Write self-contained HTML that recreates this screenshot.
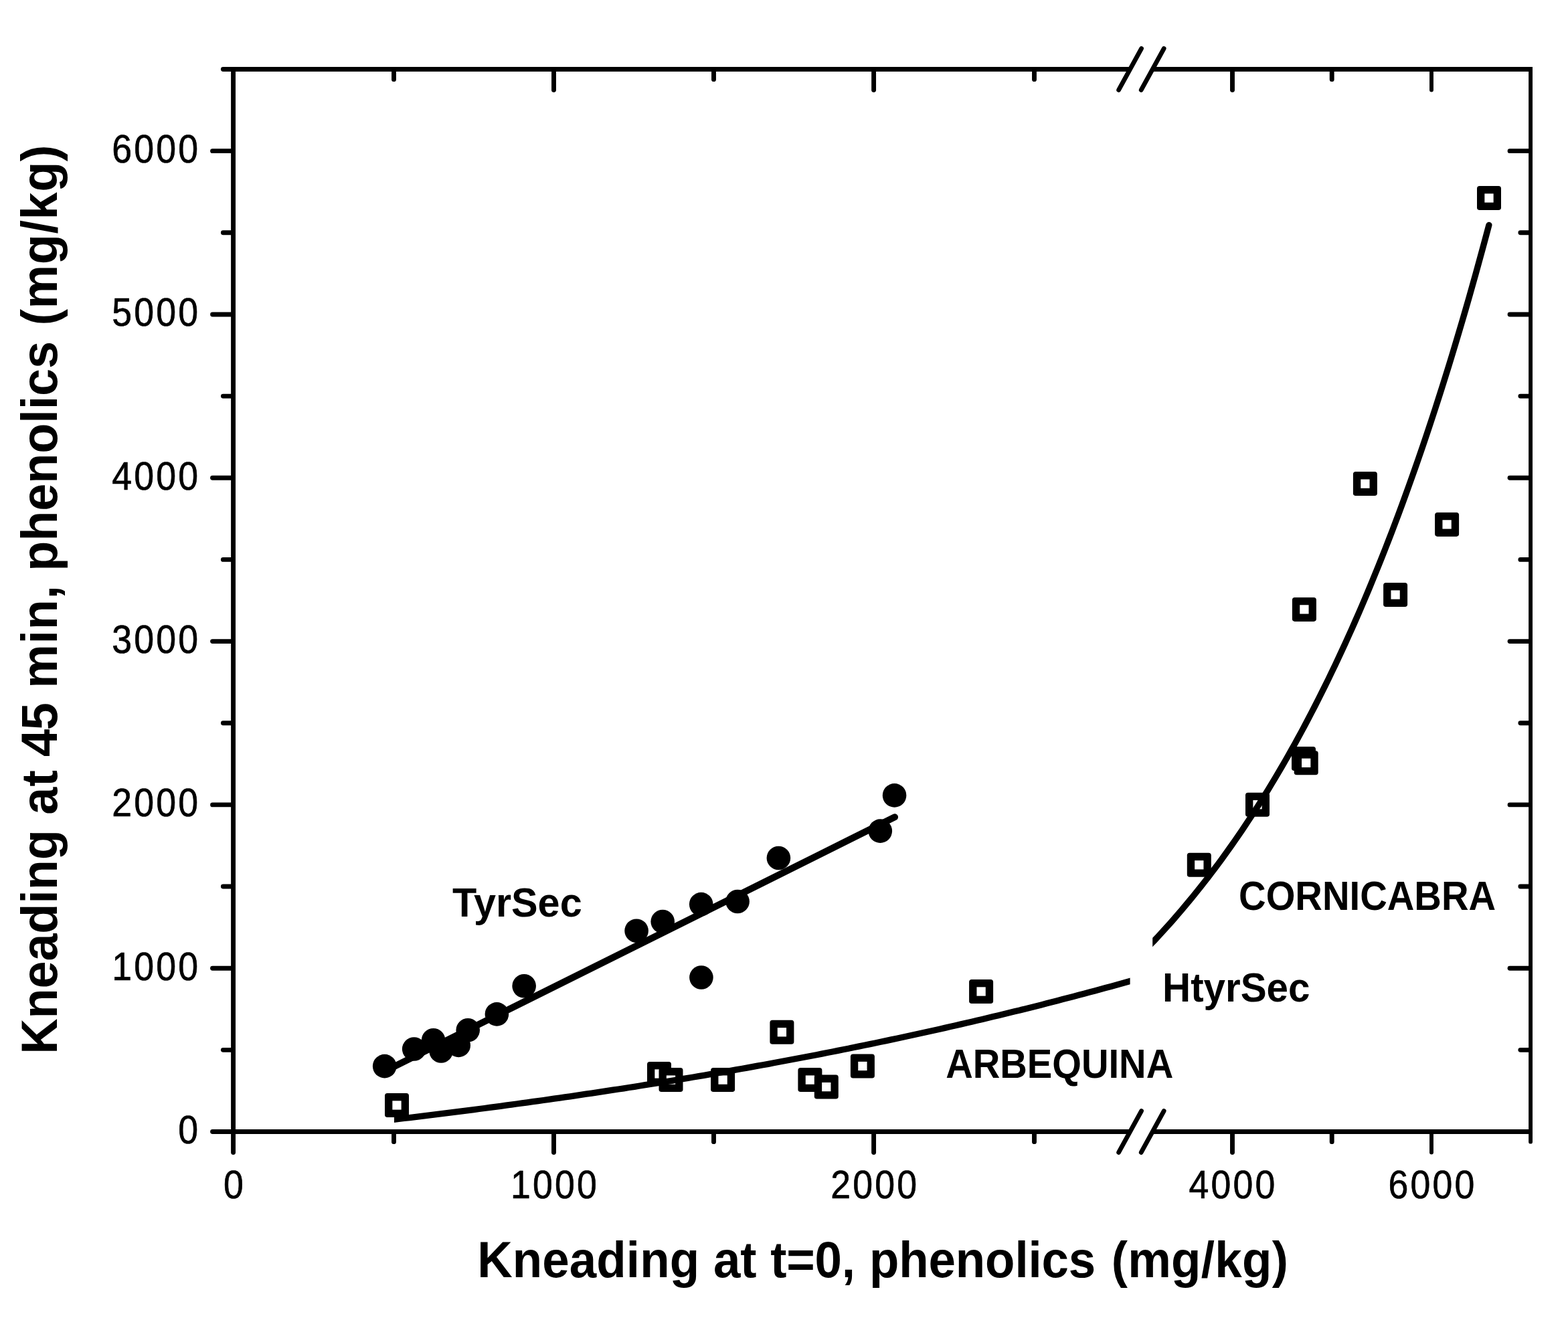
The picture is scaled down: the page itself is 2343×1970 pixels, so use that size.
<!DOCTYPE html>
<html lang="en"><head><meta charset="utf-8"><title>Kneading phenolics</title>
<style>html,body{margin:0;padding:0;background:#fff}svg{display:block}text{font-family:"Liberation Sans",Arial,Helvetica,sans-serif;fill:#000;white-space:pre}.b{font-weight:bold}</style></head><body>
<svg xmlns="http://www.w3.org/2000/svg" width="2343" height="1970" viewBox="0 0 2343 1970">
<rect x="0" y="0" width="2343" height="1970" fill="#fff"/>
<g stroke="#000" stroke-width="6.9" fill="none" stroke-linecap="butt">
<path d="M348.55 100.05 V1691.5"/>
<path stroke-width="5.9" d="M2287.07 100.05 V1694.95"/>
<path d="M348.55 103.5 H1688.6"/>
<path d="M1722.2 103.5 H2287.07"/>
<path d="M348.55 1691.5 H1688.6"/>
<path d="M1722.2 1691.5 H2287.07"/>
</g>
<g stroke="#000" stroke-width="6.9" fill="none" stroke-linecap="round">
<path d="M348.55 1691.50 h-31.0"/>
<path d="M348.55 1569.35 h-15.15"/>
<path d="M2286.07 1569.35 h-14.15"/>
<path d="M348.55 1447.19 h-31.0"/>
<path d="M2286.07 1447.19 h-30.0"/>
<path d="M348.55 1325.04 h-15.15"/>
<path d="M2286.07 1325.04 h-14.15"/>
<path d="M348.55 1202.88 h-31.0"/>
<path d="M2286.07 1202.88 h-30.0"/>
<path d="M348.55 1080.73 h-15.15"/>
<path d="M2286.07 1080.73 h-14.15"/>
<path d="M348.55 958.58 h-31.0"/>
<path d="M2286.07 958.58 h-30.0"/>
<path d="M348.55 836.42 h-15.15"/>
<path d="M2286.07 836.42 h-14.15"/>
<path d="M348.55 714.27 h-31.0"/>
<path d="M2286.07 714.27 h-30.0"/>
<path d="M348.55 592.12 h-15.15"/>
<path d="M2286.07 592.12 h-14.15"/>
<path d="M348.55 469.96 h-31.0"/>
<path d="M2286.07 469.96 h-30.0"/>
<path d="M348.55 347.81 h-15.15"/>
<path d="M2286.07 347.81 h-14.15"/>
<path d="M348.55 225.65 h-31.0"/>
<path d="M2286.07 225.65 h-30.0"/>
<path d="M348.55 103.50 h-15.15"/>
<path d="M348.55 1691.5 v31.0"/>
<path d="M588.50 1691.5 v15.15"/>
<path d="M588.50 103.5 v15.15"/>
<path d="M827.50 1691.5 v31.0"/>
<path d="M827.50 103.5 v31.0"/>
<path d="M1066.50 1691.5 v15.15"/>
<path d="M1066.50 103.5 v15.15"/>
<path d="M1305.60 1691.5 v31.0"/>
<path d="M1305.60 103.5 v31.0"/>
<path d="M1545.50 1691.5 v15.15"/>
<path d="M1545.50 103.5 v15.15"/>
<path d="M1841.50 1691.5 v31.0"/>
<path d="M1841.50 103.5 v31.0"/>
<path d="M1990.20 1691.5 v15.15"/>
<path d="M1990.20 103.5 v15.15"/>
<path stroke-width="5.9" d="M2139.00 1691.5 v31.0"/>
<path stroke-width="5.9" d="M2139.00 103.5 v31.0"/>
<path stroke-width="5.9" d="M2287.07 1691.5 v15.15"/>
<path stroke-width="6.8" d="M1671.65 134.40 L1705.55 72.60"/>
<path stroke-width="6.8" d="M1705.25 134.40 L1739.15 72.60"/>
<path stroke-width="6.8" d="M1671.65 1722.40 L1705.55 1660.60"/>
<path stroke-width="6.8" d="M1705.25 1722.40 L1739.15 1660.60"/>
</g>
<g fill="#000">
<circle cx="574.7" cy="1593.6" r="17.8"/>
<circle cx="618.7" cy="1568" r="17.8"/>
<circle cx="647.6" cy="1554.8" r="17.8"/>
<circle cx="659.1" cy="1571" r="17.8"/>
<circle cx="685.2" cy="1562.4" r="17.8"/>
<circle cx="699.2" cy="1539.8" r="17.8"/>
<circle cx="742.4" cy="1515.9" r="17.8"/>
<circle cx="783.15" cy="1473.8" r="17.8"/>
<circle cx="951.1" cy="1391.2" r="17.8"/>
<circle cx="990.2" cy="1377.5" r="17.8"/>
<circle cx="1047.7" cy="1351.6" r="17.8"/>
<circle cx="1102.1" cy="1347.5" r="17.8"/>
<circle cx="1163.4" cy="1282.5" r="17.8"/>
<circle cx="1315.3" cy="1242.1" r="17.8"/>
<circle cx="1336.55" cy="1188.9" r="17.8"/>
<circle cx="1047.9" cy="1461" r="17.8"/>
</g>
<g fill="#000">
<rect x="575.00" y="1634.00" width="36.0" height="36.0" rx="3.8"/><rect x="586.35" y="1645.35" width="13.3" height="13.3" fill="#fff"/>
<rect x="967.00" y="1587.00" width="36.0" height="36.0" rx="3.8"/><rect x="978.35" y="1598.35" width="13.3" height="13.3" fill="#fff"/>
<rect x="984.50" y="1596.10" width="36.0" height="36.0" rx="3.8"/><rect x="995.85" y="1607.45" width="13.3" height="13.3" fill="#fff"/>
<rect x="1062.10" y="1596.10" width="36.0" height="36.0" rx="3.8"/><rect x="1073.45" y="1607.45" width="13.3" height="13.3" fill="#fff"/>
<rect x="1150.40" y="1524.80" width="36.0" height="36.0" rx="3.8"/><rect x="1161.75" y="1536.15" width="13.3" height="13.3" fill="#fff"/>
<rect x="1192.40" y="1596.10" width="36.0" height="36.0" rx="3.8"/><rect x="1203.75" y="1607.45" width="13.3" height="13.3" fill="#fff"/>
<rect x="1216.80" y="1606.60" width="36.0" height="36.0" rx="3.8"/><rect x="1228.15" y="1617.95" width="13.3" height="13.3" fill="#fff"/>
<rect x="1270.90" y="1575.50" width="36.0" height="36.0" rx="3.8"/><rect x="1282.25" y="1586.85" width="13.3" height="13.3" fill="#fff"/>
<rect x="1448.10" y="1464.00" width="36.0" height="36.0" rx="3.8"/><rect x="1459.45" y="1475.35" width="13.3" height="13.3" fill="#fff"/>
<rect x="1773.80" y="1274.80" width="36.0" height="36.0" rx="3.8"/><rect x="1785.15" y="1286.15" width="13.3" height="13.3" fill="#fff"/>
<rect x="1861.00" y="1184.70" width="36.0" height="36.0" rx="3.8"/><rect x="1872.35" y="1196.05" width="13.3" height="13.3" fill="#fff"/>
<rect x="1930.00" y="1116.05" width="36.0" height="36.0" rx="3.8"/><rect x="1941.35" y="1127.40" width="13.3" height="13.3" fill="#fff"/>
<rect x="1933.70" y="1122.30" width="36.0" height="36.0" rx="3.8"/><rect x="1945.05" y="1133.65" width="13.3" height="13.3" fill="#fff"/>
<rect x="1930.90" y="892.90" width="36.0" height="36.0" rx="3.8"/><rect x="1942.25" y="904.25" width="13.3" height="13.3" fill="#fff"/>
<rect x="2021.90" y="705.10" width="36.0" height="36.0" rx="3.8"/><rect x="2033.25" y="716.45" width="13.3" height="13.3" fill="#fff"/>
<rect x="2067.10" y="871.00" width="36.0" height="36.0" rx="3.8"/><rect x="2078.45" y="882.35" width="13.3" height="13.3" fill="#fff"/>
<rect x="2144.10" y="765.90" width="36.0" height="36.0" rx="3.8"/><rect x="2155.45" y="777.25" width="13.3" height="13.3" fill="#fff"/>
<rect x="2207.00" y="278.05" width="36.0" height="36.0" rx="3.8"/><rect x="2218.35" y="289.40" width="13.3" height="13.3" fill="#fff"/>
</g>
<g stroke="#000" stroke-width="9.3" fill="none" stroke-linecap="round" stroke-linejoin="round">
<path stroke-width="10" d="M574.7 1601.3 L1337 1221.3"/>
</g>
<defs><clipPath id="cl"><rect x="589" y="0" width="1099.6" height="1970"/></clipPath><clipPath id="cr"><rect x="1722.2" y="0" width="700" height="1970"/></clipPath></defs>
<g stroke="#000" stroke-width="9.3" fill="none" stroke-linecap="round" stroke-linejoin="round">
<path clip-path="url(#cl)" d="M580.0 1674.4 588.0 1673.4 596.0 1672.5 604.0 1671.5 612.0 1670.6 620.0 1669.6 628.0 1668.6 636.0 1667.6 644.0 1666.7 652.0 1665.7 660.0 1664.7 668.0 1663.7 676.0 1662.7 684.0 1661.6 692.0 1660.6 700.0 1659.6 708.0 1658.6 716.0 1657.5 724.0 1656.5 732.0 1655.4 740.0 1654.3 748.0 1653.3 756.0 1652.2 764.0 1651.1 772.0 1650.0 780.0 1648.9 788.0 1647.8 796.0 1646.7 804.0 1645.6 812.0 1644.5 820.0 1643.4 828.0 1642.2 836.0 1641.1 844.0 1639.9 852.0 1638.8 860.0 1637.6 868.0 1636.4 876.0 1635.2 884.0 1634.1 892.0 1632.9 900.0 1631.6 908.0 1630.4 916.0 1629.2 924.0 1628.0 932.0 1626.8 940.0 1625.5 948.0 1624.3 956.0 1623.0 964.0 1621.7 972.0 1620.5 980.0 1619.2 988.0 1617.9 996.0 1616.6 1004.0 1615.3 1012.0 1614.0 1020.0 1612.6 1028.0 1611.3 1036.0 1610.0 1044.0 1608.6 1052.0 1607.3 1060.0 1605.9 1068.0 1604.5 1076.0 1603.1 1084.0 1601.7 1092.0 1600.3 1100.0 1598.9 1108.0 1597.5 1116.0 1596.1 1124.0 1594.6 1132.0 1593.2 1140.0 1591.7 1148.0 1590.3 1156.0 1588.8 1164.0 1587.3 1172.0 1585.8 1180.0 1584.3 1188.0 1582.8 1196.0 1581.3 1204.0 1579.8 1212.0 1578.2 1220.0 1576.7 1228.0 1575.1 1236.0 1573.5 1244.0 1572.0 1252.0 1570.4 1260.0 1568.8 1268.0 1567.2 1276.0 1565.5 1284.0 1563.9 1292.0 1562.3 1300.0 1560.6 1308.0 1559.0 1316.0 1557.3 1324.0 1555.6 1332.0 1553.9 1340.0 1552.2 1348.0 1550.5 1356.0 1548.8 1364.0 1547.0 1372.0 1545.3 1380.0 1543.5 1388.0 1541.7 1396.0 1540.0 1404.0 1538.2 1412.0 1536.4 1420.0 1534.5 1428.0 1532.7 1436.0 1530.9 1444.0 1529.0 1452.0 1527.2 1460.0 1525.3 1468.0 1523.4 1476.0 1521.5 1484.0 1519.6 1492.0 1517.7 1500.0 1515.7 1508.0 1513.8 1516.0 1511.8 1524.0 1509.9 1532.0 1507.9 1540.0 1505.9 1548.0 1503.9 1556.0 1501.9 1564.0 1499.8 1572.0 1497.8 1580.0 1495.7 1588.0 1493.6 1596.0 1491.6 1604.0 1489.5 1612.0 1487.3 1620.0 1485.2 1628.0 1483.1 1636.0 1480.9 1644.0 1478.8 1652.0 1476.6 1660.0 1474.4 1668.0 1472.2 1676.0 1470.0 1684.0 1467.7 1692.0 1465.5 1700.0 1463.2 1708.0 1460.9"/>
<path clip-path="url(#cr)" d="M1700.0 1431.3 1705.0 1426.3 1710.0 1421.3 1715.0 1416.1 1720.0 1410.9 1725.0 1405.7 1730.0 1400.3 1735.0 1394.9 1740.0 1389.4 1745.0 1383.9 1750.0 1378.3 1755.0 1372.6 1760.0 1366.8 1765.0 1361.0 1770.0 1355.1 1775.0 1349.1 1780.0 1343.1 1785.0 1336.9 1790.0 1330.7 1795.0 1324.4 1800.0 1318.0 1805.0 1311.6 1810.0 1305.0 1815.0 1298.4 1820.0 1291.7 1825.0 1284.9 1830.0 1278.0 1835.0 1271.1 1840.0 1264.0 1845.0 1256.9 1850.0 1249.6 1855.0 1242.3 1860.0 1234.9 1865.0 1227.3 1870.0 1219.7 1875.0 1212.0 1880.0 1204.2 1885.0 1196.3 1890.0 1188.3 1895.0 1180.2 1900.0 1171.9 1905.0 1163.6 1910.0 1155.2 1915.0 1146.6 1920.0 1138.0 1925.0 1129.2 1930.0 1120.4 1935.0 1111.4 1940.0 1102.3 1945.0 1093.1 1950.0 1083.7 1955.0 1074.3 1960.0 1064.7 1965.0 1055.0 1970.0 1045.2 1975.0 1035.2 1980.0 1025.2 1985.0 1015.0 1990.0 1004.6 1995.0 994.2 2000.0 983.6 2005.0 972.8 2010.0 962.0 2015.0 950.9 2020.0 939.8 2025.0 928.5 2030.0 917.1 2035.0 905.5 2040.0 893.7 2045.0 881.9 2050.0 869.8 2055.0 857.6 2060.0 845.3 2065.0 832.8 2070.0 820.1 2075.0 807.3 2080.0 794.3 2085.0 781.2 2090.0 767.8 2095.0 754.4 2100.0 740.7 2105.0 726.8 2110.0 712.8 2115.0 698.6 2120.0 684.3 2125.0 669.7 2130.0 654.9 2135.0 640.0 2140.0 624.9 2145.0 609.6 2150.0 594.0 2155.0 578.3 2160.0 562.4 2165.0 546.3 2170.0 530.0 2175.0 513.4 2180.0 496.7 2185.0 479.7 2190.0 462.6 2195.0 445.2 2200.0 427.5 2205.0 409.7 2210.0 391.6 2215.0 373.3 2220.0 354.8 2224.9 336.4"/>
</g>
<text transform="translate(266.26 1709.00) scale(0.9 1)" font-size="59.6" letter-spacing="3.52" stroke="#000" stroke-width="0.7">0</text>
<text transform="translate(167.26 1464.69) scale(0.9 1)" font-size="59.6" letter-spacing="3.52" stroke="#000" stroke-width="0.7">1000</text>
<text transform="translate(167.26 1220.38) scale(0.9 1)" font-size="59.6" letter-spacing="3.52" stroke="#000" stroke-width="0.7">2000</text>
<text transform="translate(167.26 976.08) scale(0.9 1)" font-size="59.6" letter-spacing="3.52" stroke="#000" stroke-width="0.7">3000</text>
<text transform="translate(167.26 731.77) scale(0.9 1)" font-size="59.6" letter-spacing="3.52" stroke="#000" stroke-width="0.7">4000</text>
<text transform="translate(167.26 487.46) scale(0.9 1)" font-size="59.6" letter-spacing="3.52" stroke="#000" stroke-width="0.7">5000</text>
<text transform="translate(167.26 243.15) scale(0.9 1)" font-size="59.6" letter-spacing="3.52" stroke="#000" stroke-width="0.7">6000</text>
<text transform="translate(334.08 1790.50) scale(0.9 1)" font-size="59.6" letter-spacing="3.52" stroke="#000" stroke-width="0.7">0</text>
<text transform="translate(763.08 1790.50) scale(0.9 1)" font-size="59.6" letter-spacing="3.52" stroke="#000" stroke-width="0.7">1000</text>
<text transform="translate(1241.28 1790.50) scale(0.9 1)" font-size="59.6" letter-spacing="3.52" stroke="#000" stroke-width="0.7">2000</text>
<text transform="translate(1776.58 1790.50) scale(0.9 1)" font-size="59.6" letter-spacing="3.52" stroke="#000" stroke-width="0.7">4000</text>
<text transform="translate(2074.58 1790.50) scale(0.9 1)" font-size="59.6" letter-spacing="3.52" stroke="#000" stroke-width="0.7">6000</text>
<text class="b" transform="translate(700.00 1909.00) scale(0.957 1)" font-size="76"><tspan x="13.81" letter-spacing="0.08">Kneading </tspan><tspan x="382.43" letter-spacing="-0.11">at </tspan><tspan x="471.41" letter-spacing="-0.22">t=0, </tspan><tspan x="625.83" letter-spacing="-0.14">phenolics </tspan><tspan x="1003.84" letter-spacing="0.30">(mg/kg)</tspan></text>
<text class="b" transform="translate(85.30 1600.00) rotate(-90) scale(0.972 1)" font-size="76"><tspan x="24.94" letter-spacing="-0.13">Kneading </tspan><tspan x="393.16" letter-spacing="1.15">at </tspan><tspan x="482.44" letter-spacing="-1.16">45 </tspan><tspan x="587.70" letter-spacing="0.65">min, </tspan><tspan x="767.74" letter-spacing="-0.11">phenolics </tspan><tspan x="1145.49" letter-spacing="0.57">(mg/kg)</tspan></text>
<text class="b" transform="translate(676.03 1369.70) scale(0.9657 1)" font-size="61.5">TyrSec</text>
<text class="b" transform="translate(1737.01 1496.90) scale(0.9485 1)" font-size="61.5">HtyrSec</text>
<text class="b" transform="translate(1413.17 1610.90) scale(0.9133 1)" font-size="61.5">ARBEQUINA</text>
<text class="b" transform="translate(1851.06 1360.00) scale(0.9142 1)" font-size="61.5">CORNICABRA</text>
</svg></body></html>
